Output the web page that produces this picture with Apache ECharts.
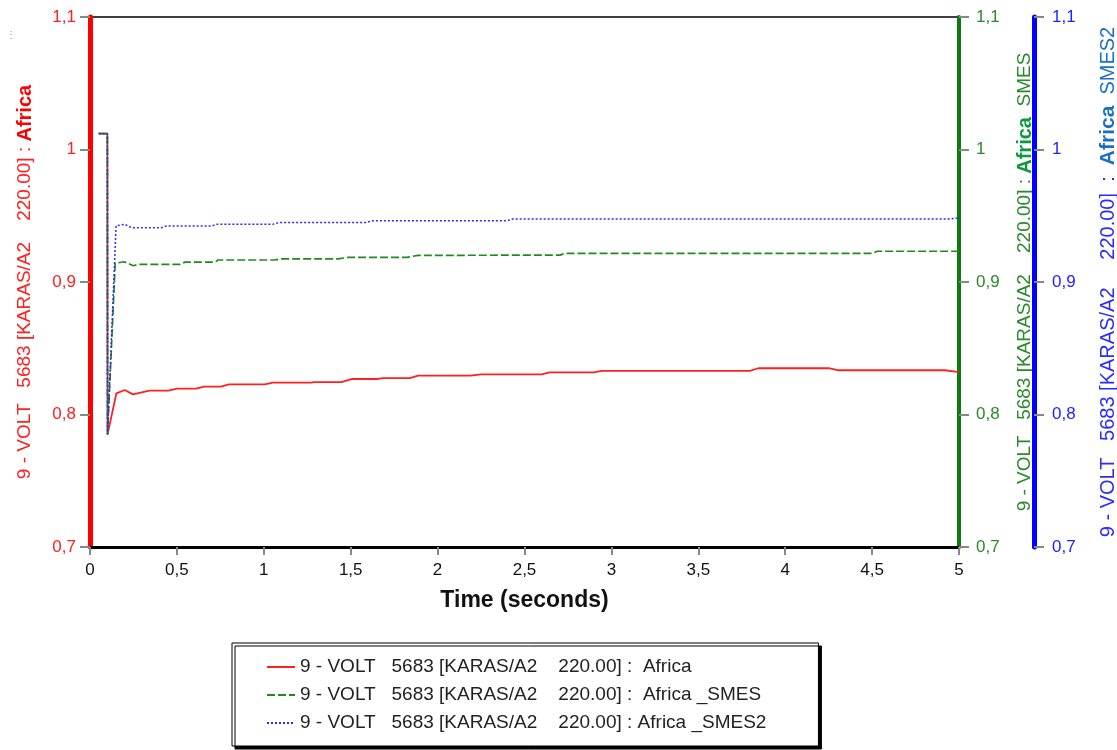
<!DOCTYPE html>
<html>
<head>
<meta charset="utf-8">
<script src="https://cdn.jsdelivr.net/npm/echarts@6/dist/echarts.min.js"></script>
<style>html,body{margin:0;padding:0;background:#fff}#c{width:1117px;height:750px}</style>
</head>
<body>
<div id="c"></div>
<script>
// ---- data ----
const seriesNames = [
  '9 - VOLT   5683 [KARAS/A2    220.00] :  Africa',
  '9 - VOLT   5683 [KARAS/A2    220.00] :  Africa _SMES',
  '9 - VOLT   5683 [KARAS/A2    220.00] : Africa _SMES2'
];
const xTicks = [0, 0.5, 1, 1.5, 2, 2.5, 3, 3.5, 4, 4.5, 5];
const yTicks = [0.7, 0.8, 0.9, 1.0, 1.1];

const redT = [0.05, 0.1, 0.101, 0.152, 0.2, 0.247, 0.342, 0.452, 0.5, 0.61, 0.657, 0.752, 0.8, 1.005, 1.052, 1.273, 1.288, 1.446, 1.509, 1.651, 1.683, 1.84, 1.888, 2.188, 2.251, 2.598, 2.646, 2.898, 2.945, 3.797, 3.845, 4.255, 4.303, 4.918, 5.0];
const redV = [1.012, 1.012, 0.785, 0.816, 0.8185, 0.8152, 0.818, 0.818, 0.8195, 0.8195, 0.821, 0.821, 0.8228, 0.8228, 0.824, 0.824, 0.8245, 0.8245, 0.8268, 0.8268, 0.8275, 0.8275, 0.8293, 0.8293, 0.8303, 0.8303, 0.8318, 0.8318, 0.833, 0.833, 0.8349, 0.8349, 0.8334, 0.8334, 0.832];

const greenT = [0.05, 0.1, 0.101, 0.145, 0.196, 0.249, 0.278, 0.518, 0.547, 0.719, 0.737, 1.064, 1.093, 1.427, 1.484, 1.824, 1.887, 2.704, 2.733, 4.5, 4.53, 5.0];
const greenV = [1.012, 1.012, 0.785, 0.9141, 0.9153, 0.9123, 0.9133, 0.9133, 0.915, 0.915, 0.9166, 0.9166, 0.9174, 0.9174, 0.9186, 0.9186, 0.9201, 0.9203, 0.9216, 0.9216, 0.9232, 0.9232];

const blueT = [0.05, 0.1, 0.101, 0.15, 0.2, 0.24, 0.41, 0.44, 0.7, 0.73, 1.05, 1.09, 1.59, 1.63, 2.4, 2.43, 4.95, 5.0];
const blueV = [1.012, 1.012, 0.785, 0.9425, 0.9435, 0.941, 0.941, 0.9423, 0.9423, 0.9435, 0.9435, 0.9449, 0.9449, 0.9463, 0.9463, 0.9475, 0.9475, 0.9485];

// ---- chart ----
const FONT = 'Arial, "Liberation Sans", sans-serif';
const fmt = v => String(Math.round(v * 10) / 10).replace('.', ',');
const zip = (t, v) => t.map((x, i) => [x, v[i]]);

function yAxis(opts) {
  return Object.assign({
    type: 'value', min: yTicks[0], max: yTicks[yTicks.length - 1], interval: 0.1,
    nameLocation: 'middle', nameRotate: 90,
    splitLine: { show: false },
    axisTick: { show: true, length: 10, lineStyle: { color: '#888', width: 2 } },
    axisLabel: { formatter: fmt, fontFamily: FONT, fontSize: 17 }
  }, opts);
}

const chart = echarts.init(document.getElementById('c'), null, { renderer: 'canvas' });
chart.setOption({
  animation: false,
  backgroundColor: '#fff',
  grid: { left: 90, right: 158, top: 17, bottom: 203, containLabel: false, outerBoundsMode: 'none',
          show: true, borderColor: '#000', borderWidth: 1.5, backgroundColor: 'transparent' },
  xAxis: {
    type: 'value', min: xTicks[0], max: xTicks[xTicks.length - 1], interval: 0.5,
    name: 'Time (seconds)', nameLocation: 'middle', nameGap: 42,
    nameTextStyle: { fontFamily: FONT, fontSize: 23, fontWeight: 'bold', color: '#111' },
    axisLine: { show: true, lineStyle: { color: '#000', width: 3 } },
    axisTick: { show: true, length: 8, lineStyle: { color: '#888', width: 2 } },
    axisLabel: { formatter: fmt, fontFamily: FONT, fontSize: 17, color: '#111', margin: 15 },
    splitLine: { show: false }
  },
  yAxis: [
    yAxis({
      position: 'left', offset: 2,
      name: '{n|9 - VOLT   5683 [KARAS/A2    220.00] : }{b|Africa}', nameGap: 53,
      nameTextStyle: { rich: {
        n: { fontFamily: FONT, fontSize: 19, color: '#ff2020' },
        b: { fontFamily: FONT, fontSize: 20, color: '#ff0000', fontWeight: 'bold' }
      } },
      axisLine: { show: true, lineStyle: { color: '#ff0000', width: 5 } },
      axisLabel: { formatter: fmt, fontFamily: FONT, fontSize: 17, color: '#ff2020', margin: 12 }
    }),
    yAxis({
      position: 'right', offset: 0,
      name: '{n|9 - VOLT   5683 [KARAS/A2    220.00] : }{b|Africa}{n|  SMES}', nameGap: 56,
      nameTextStyle: { rich: {
        n: { fontFamily: FONT, fontSize: 19, color: '#2a8a2a' },
        b: { fontFamily: FONT, fontSize: 20, color: '#0a9a3a', fontWeight: 'bold' }
      } },
      axisLine: { show: true, lineStyle: { color: '#0c7a0c', width: 4 } },
      axisLabel: { formatter: fmt, fontFamily: FONT, fontSize: 17, color: '#2a8a2a', margin: 17 }
    }),
    yAxis({
      position: 'right', offset: 75,
      name: '{n|9 - VOLT   5683 [KARAS/A2     220.00]  :  }{b|Africa}{c|_SMES2}', nameGap: 64,
      nameTextStyle: { rich: {
        n: { fontFamily: FONT, fontSize: 20, color: '#2b2bff' },
        b: { fontFamily: FONT, fontSize: 21, color: '#1a70c8', fontWeight: 'bold' },
        c: { fontFamily: FONT, fontSize: 20, color: '#1a70c8' }
      } },
      axisLine: { show: true, lineStyle: { color: '#0000ff', width: 5 } },
      axisLabel: { formatter: fmt, fontFamily: FONT, fontSize: 17, color: '#2222ff', margin: 18 }
    })
  ],
  legend: {
    orient: 'vertical', left: 232, top: 643,
    data: seriesNames,
    backgroundColor: '#fff', borderColor: '#000', borderWidth: 1,
    shadowColor: '#000', shadowBlur: 0, shadowOffsetX: 3, shadowOffsetY: 3,
    padding: [14, 52, 13, 34],
    itemWidth: 28, itemHeight: 14, itemGap: 8,
    itemStyle: { opacity: 0 },
    textStyle: { fontFamily: FONT, fontSize: 19, color: '#222', lineHeight: 20 }
  },
  graphic: [{
    type: 'text', left: 6, top: 30,
    style: { text: '⋮', fill: '#999', font: '10px ' + FONT }
  }],
  series: [
    { name: seriesNames[0], type: 'line', yAxisIndex: 0, data: zip(redT, redV), symbol: 'none', showSymbol: false,
      lineStyle: { color: '#ff2020', width: 1.8, type: 'solid' }, itemStyle: { color: '#ff2020' } },
    { name: seriesNames[1], type: 'line', yAxisIndex: 1, data: zip(greenT, greenV), symbol: 'none', showSymbol: false,
      lineStyle: { color: '#1f8a1f', width: 1.7, type: [8, 3] }, itemStyle: { color: '#1f8a1f' } },
    { name: seriesNames[2], type: 'line', yAxisIndex: 2, data: zip(blueT, blueV), symbol: 'none', showSymbol: false,
      lineStyle: { color: '#2a2aff', width: 1.5, type: [2, 2] }, itemStyle: { color: '#2a2aff' } }
  ]
});
</script>
</body>
</html>
